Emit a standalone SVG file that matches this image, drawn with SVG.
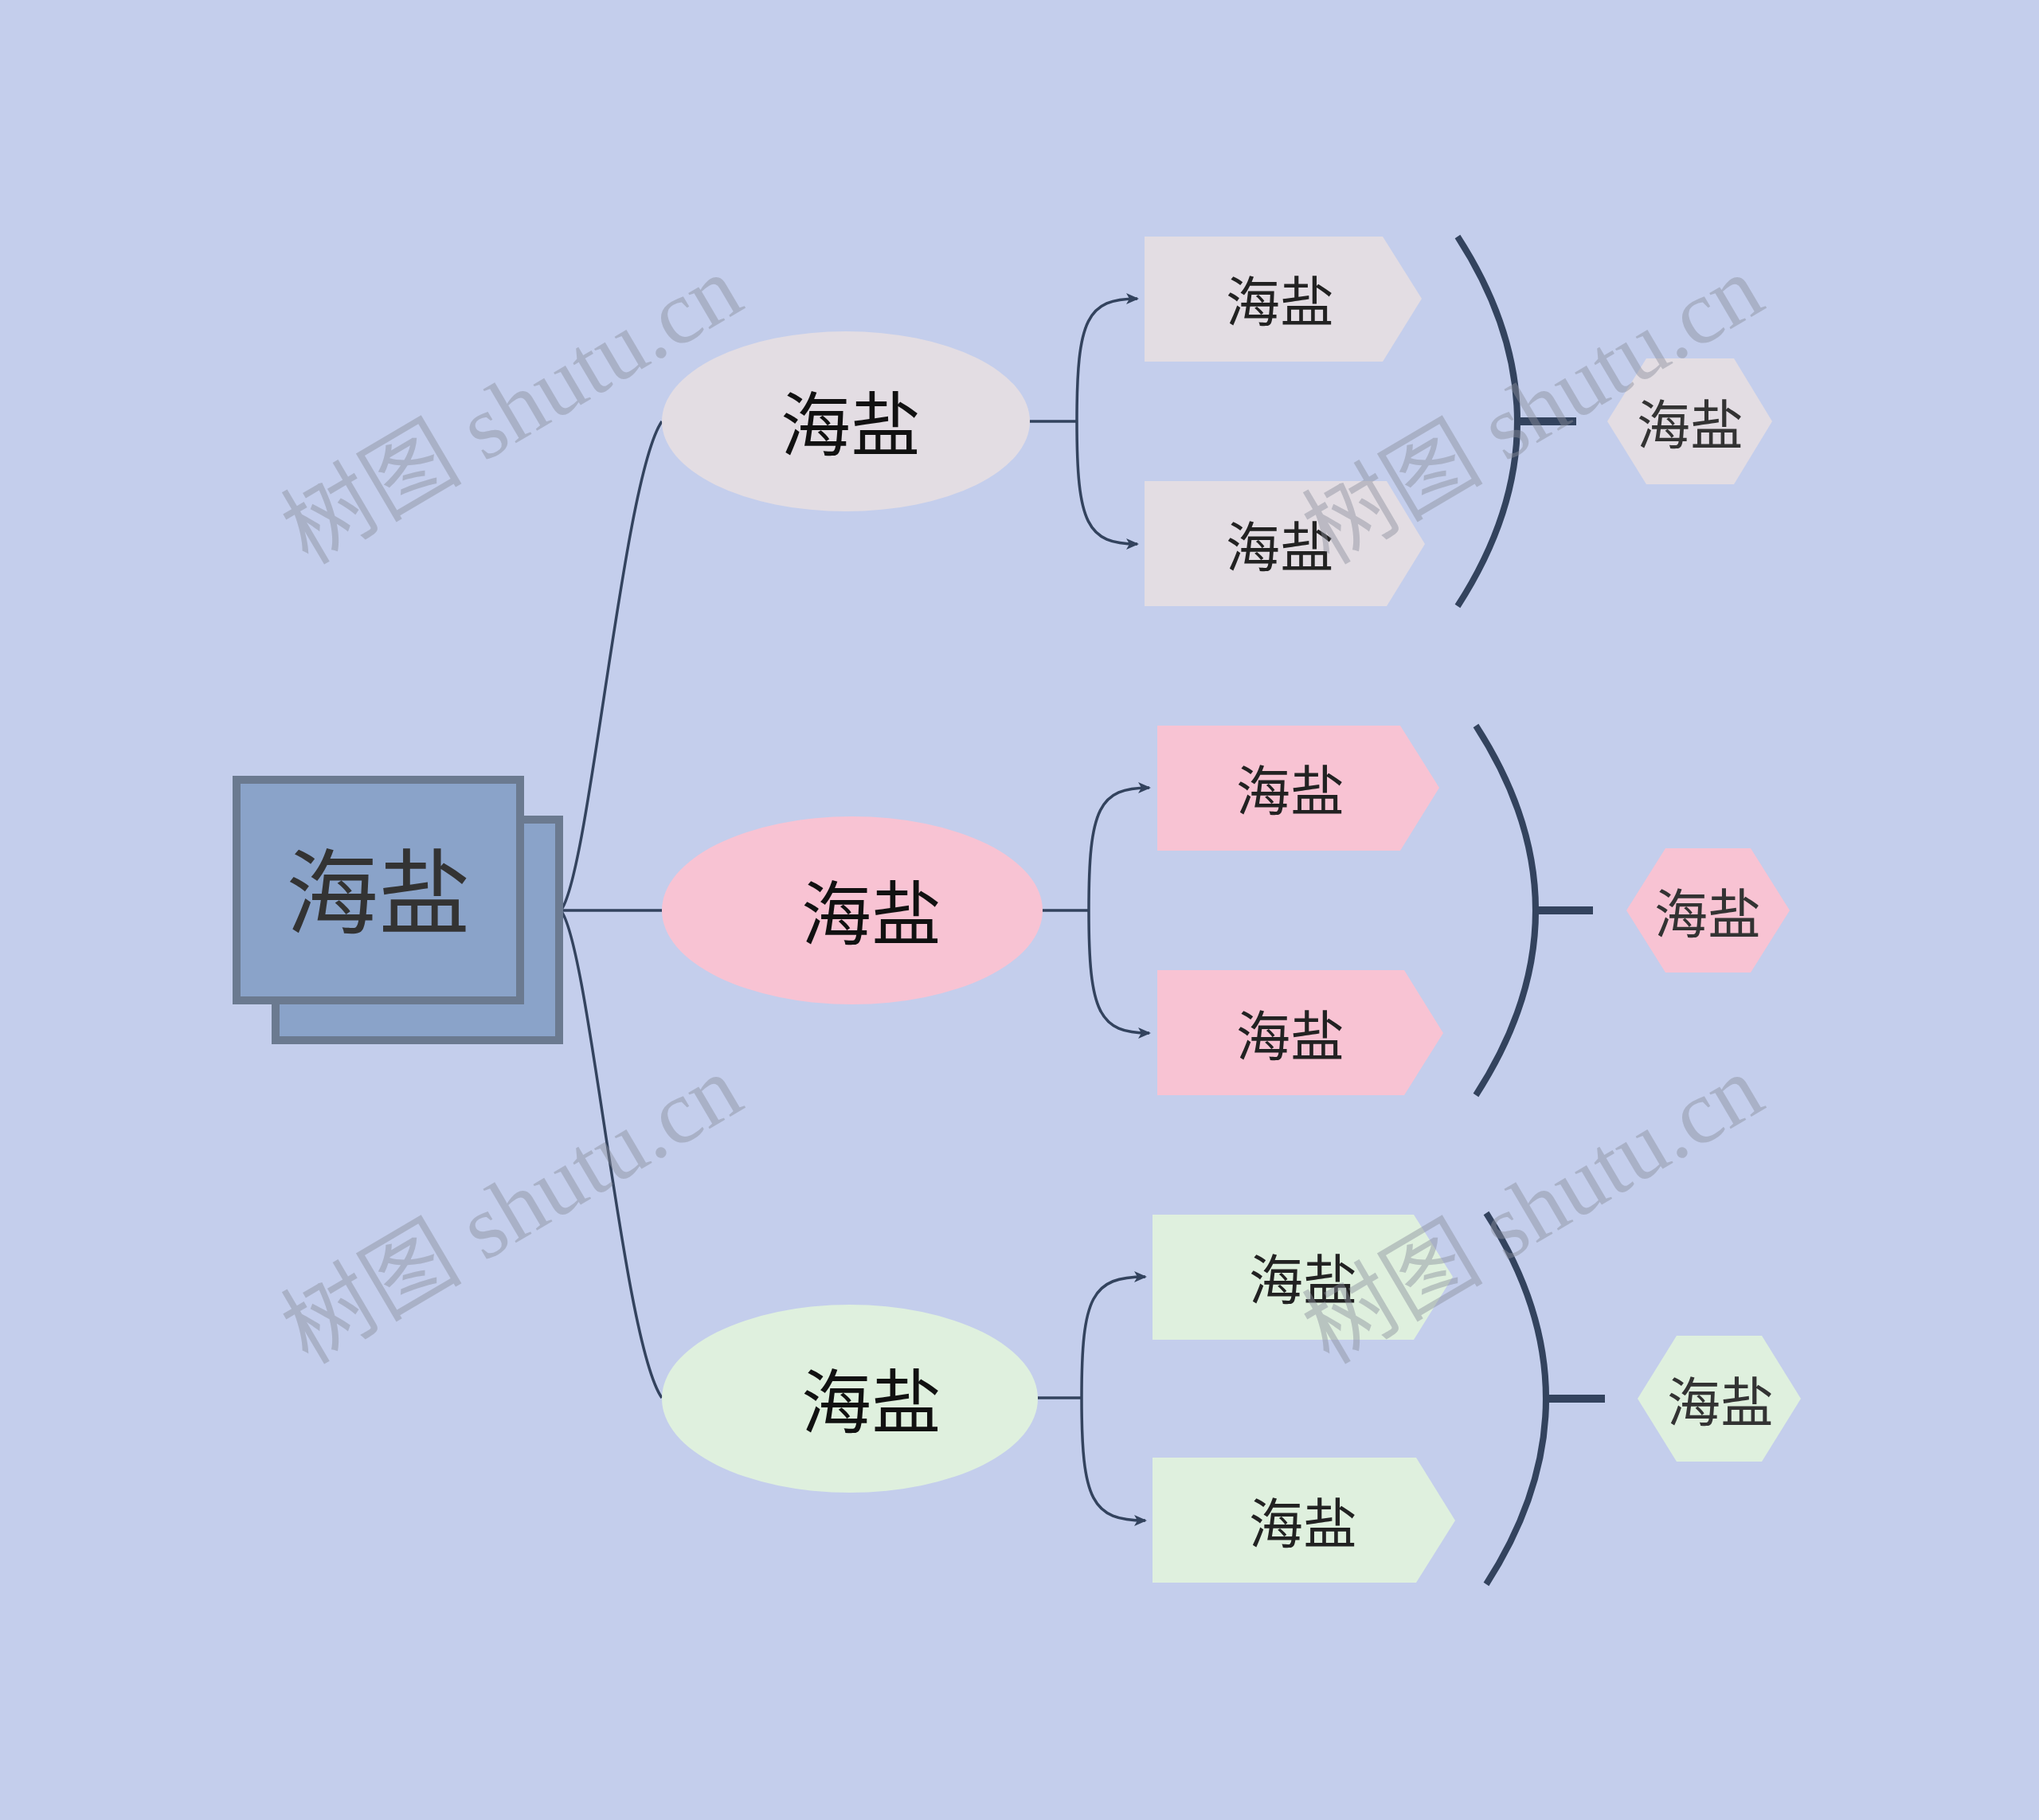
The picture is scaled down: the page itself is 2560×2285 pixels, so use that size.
<svg xmlns="http://www.w3.org/2000/svg" width="2560" height="2285" viewBox="0 0 2560 2285">
<defs>
<style>
.t{font-family:"Noto Sans CJK SC","Noto Sans",sans-serif;text-anchor:middle;dominant-baseline:central}
.c{fill:none;stroke:#33435e;stroke-width:3.5}
.arc{fill:none;stroke:#33435e;stroke-width:8}
.stub{fill:none;stroke:#33435e;stroke-width:10}
.grey{fill:#e3dde3}
.pink{fill:#f8c3d3}
.green{fill:#dff0de}
.wm{font-family:"Liberation Serif","Noto Sans CJK SC",serif;font-size:114px;fill:#8a8f9c;fill-opacity:0.45;text-anchor:middle}
</style>
<marker id="ah" markerUnits="userSpaceOnUse" markerWidth="16" markerHeight="16" viewBox="0 0 16 16" refX="14" refY="8" orient="auto">
<path d="M0,1 L16,8 L0,15 L4,8 Z" fill="#33435e"/>
</marker>
</defs>
<rect width="2560" height="2285" fill="#c4ceec"/>

<g id="connectors">
<path class="c" d="M704,1143 C740,1100 782,600 831,529"/>
<path class="c" d="M704,1143 L831,1143"/>
<path class="c" d="M704,1143 C740,1186 782,1686 831,1755"/>

<path class="c" d="M1293,529 H1352"/>
<path class="c" marker-end="url(#ah)" d="M1352,529 C1352,400 1365,375 1428,375"/>
<path class="c" marker-end="url(#ah)" d="M1352,529 C1352,658 1365,683 1428,683"/>

<path class="c" d="M1309,1143 H1367"/>
<path class="c" marker-end="url(#ah)" d="M1367,1143 C1367,1014 1380,989 1443,989"/>
<path class="c" marker-end="url(#ah)" d="M1367,1143 C1367,1272 1380,1297 1443,1297"/>

<path class="c" d="M1303,1755 H1358"/>
<path class="c" marker-end="url(#ah)" d="M1358,1755 C1358,1627 1371,1603 1438,1603"/>
<path class="c" marker-end="url(#ah)" d="M1358,1755 C1358,1884 1371,1909 1438,1909"/>

<path class="arc" d="M1830,297 Q1980,529 1830,761"/>
<path class="stub" d="M1904,529 H1979"/>
<path class="arc" d="M1853,911 Q2003,1143 1853,1375"/>
<path class="stub" d="M1927,1143 H2000"/>
<path class="arc" d="M1866,1523 Q2016,1756 1866,1989"/>
<path class="stub" d="M1940,1756 H2015"/>
</g>

<g id="root">
<rect x="346" y="1029" width="356" height="277" fill="#8aa3c9" stroke="#6b7a90" stroke-width="10"/>
<rect x="297" y="979" width="356" height="277" fill="#8aa3c9" stroke="#6b7a90" stroke-width="10"/>
<text class="t" x="475" y="1112" font-size="116" fill="#333333">海盐</text>
</g>

<g id="b1">
<ellipse class="grey" cx="1062" cy="529" rx="231" ry="113"/>
<text class="t" x="1068" y="526" font-size="88" fill="#111111">海盐</text>
</g>
<g id="b2">
<ellipse class="pink" cx="1070" cy="1143" rx="239" ry="118"/>
<text class="t" x="1094" y="1140" font-size="88" fill="#111111">海盐</text>
</g>
<g id="b3">
<ellipse class="green" cx="1067" cy="1756" rx="236" ry="118"/>
<text class="t" x="1094" y="1753" font-size="88" fill="#111111">海盐</text>
</g>

<g id="f1a">
<polygon class="grey" points="1437,297 1736,297 1785,375 1736,454 1437,454"/>
<text class="t" x="1607" y="374" font-size="68" fill="#222222">海盐</text>
</g>
<g id="f1b">
<polygon class="grey" points="1437,604 1741,604 1789,683 1741,761 1437,761"/>
<text class="t" x="1607" y="682" font-size="68" fill="#222222">海盐</text>
</g>
<g id="f2a">
<polygon class="pink" points="1453,911 1758,911 1807,989 1758,1068 1453,1068"/>
<text class="t" x="1620" y="988" font-size="68" fill="#222222">海盐</text>
</g>
<g id="f2b">
<polygon class="pink" points="1453,1218 1763,1218 1812,1297 1763,1375 1453,1375"/>
<text class="t" x="1620" y="1296" font-size="68" fill="#222222">海盐</text>
</g>
<g id="f3a">
<polygon class="green" points="1447,1525 1775,1525 1824,1603 1775,1682 1447,1682"/>
<text class="t" x="1636" y="1602" font-size="68" fill="#222222">海盐</text>
</g>
<g id="f3b">
<polygon class="green" points="1447,1830 1778,1830 1827,1909 1778,1987 1447,1987"/>
<text class="t" x="1636" y="1908" font-size="68" fill="#222222">海盐</text>
</g>

<g id="h1">
<polygon class="grey" points="2018,529 2067,450 2177,450 2225,529 2177,608 2067,608"/>
<text class="t" x="2122" y="528" font-size="67" fill="#333333">海盐</text>
</g>
<g id="h2">
<polygon class="pink" points="2042,1143 2091,1065 2198,1065 2247,1143 2198,1221 2091,1221"/>
<text class="t" x="2144" y="1142" font-size="67" fill="#333333">海盐</text>
</g>
<g id="h3">
<polygon class="green" points="2056,1756 2105,1677 2212,1677 2261,1756 2212,1835 2105,1835"/>
<text class="t" x="2160" y="1755" font-size="67" fill="#333333">海盐</text>
</g>

<g id="watermarks">
<text class="wm" x="662" y="548" transform="rotate(-30.5 662 548)">树图 shutu.cn</text>
<text class="wm" x="1944" y="548" transform="rotate(-30.5 1944 548)">树图 shutu.cn</text>
<text class="wm" x="662" y="1552" transform="rotate(-30.5 662 1552)">树图 shutu.cn</text>
<text class="wm" x="1944" y="1552" transform="rotate(-30.5 1944 1552)">树图 shutu.cn</text>
</g>
</svg>
